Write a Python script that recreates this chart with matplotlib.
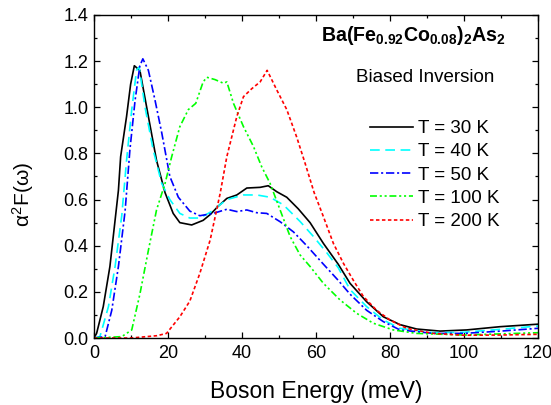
import matplotlib
matplotlib.use("Agg")
import matplotlib.pyplot as plt
from matplotlib.ticker import MultipleLocator, FormatStrFormatter

plt.rcParams['font.family'] = ['Liberation Sans', 'DejaVu Sans']
plt.rcParams['mathtext.fontset'] = 'custom'
plt.rcParams['mathtext.rm'] = 'Liberation Sans'
plt.rcParams['mathtext.it'] = 'Liberation Sans'
plt.rcParams['mathtext.bf'] = 'Liberation Sans:bold'
plt.rcParams['lines.scale_dashes'] = False

# Eliashberg-type spectral function alpha^2 F(omega) at several temperatures
e_30 = [0, 0.7, 2.5, 4.3, 6.6, 7.2, 8.8, 9.9, 10.9, 12.4, 14.7, 16.9, 19.2, 21.4, 23.2, 26.4,
        29.5, 31.4, 33.5, 35.9, 38.6, 41.3, 44.9, 47.1, 49.4, 52.1, 55.2, 58.4, 62.0, 66.0,
        69.2, 73.7, 78.2, 82.7, 87.2, 93.5, 100.7, 109.7, 120]
a2f_30 = [0, 0.02, 0.136, 0.31, 0.64, 0.786, 0.96, 1.10, 1.18, 1.16, 0.96, 0.77, 0.63, 0.54,
          0.50, 0.49, 0.51, 0.535, 0.57, 0.605, 0.62, 0.65, 0.653, 0.66, 0.634, 0.61, 0.56,
          0.50, 0.41, 0.32, 0.237, 0.157, 0.092, 0.058, 0.039, 0.030, 0.035, 0.049, 0.060]

e_40 = [0, 1.6, 3.9, 5.7, 7.5, 8.8, 10.2, 11.5, 12.2, 13.8, 16.0, 18.3, 20.5, 23.2, 25.9,
        28.6, 31.4, 35.9, 40.4, 44.0, 47.6, 51.2, 55.7, 59.3, 62.9, 66.0, 69.2, 73.7, 78.2,
        82.7, 91.7, 100, 110, 120]
a2f_40 = [0, 0.006, 0.136, 0.31, 0.53, 0.77, 0.99, 1.16, 1.175, 1.0, 0.815, 0.67, 0.60, 0.54,
          0.52, 0.52, 0.545, 0.60, 0.62, 0.62, 0.61, 0.577, 0.505, 0.44, 0.37, 0.305, 0.21,
          0.136, 0.078, 0.042, 0.023, 0.025, 0.038, 0.052]

e_50 = [0, 3.0, 4.8, 6.6, 8.4, 9.7, 11.1, 12.4, 13.2, 14.7, 16.5, 18.3, 20.5, 22.8, 25.9,
        28.6, 32.2, 35.9, 38.6, 41.3, 44.0, 46.7, 50.3, 53.9, 57.5, 62.0, 66.0, 69.2, 73.7,
        78.2, 82.7, 91.7, 100, 110, 120]
a2f_50 = [0, 0.006, 0.12, 0.31, 0.55, 0.815, 1.03, 1.18, 1.21, 1.16, 1.03, 0.89, 0.70, 0.61,
          0.55, 0.53, 0.54, 0.558, 0.548, 0.555, 0.543, 0.54, 0.504, 0.46, 0.40, 0.32, 0.25,
          0.19, 0.12, 0.071, 0.035, 0.02, 0.02, 0.03, 0.042]

e_100 = [0, 7.5, 10.2, 12.4, 14.7, 16.9, 19.2, 21.0, 23.2, 25.5, 27.5, 29.5, 30.5, 32.7, 35.0,
         35.9, 37.7, 40.4, 43.1, 45.3, 47.6, 50.3, 53.0, 55.7, 58.4, 62.0, 66.5, 71.0, 75.5,
         80.9, 87.2, 100, 110, 120]
a2f_100 = [0, 0.006, 0.035, 0.19, 0.38, 0.555, 0.67, 0.786, 0.916, 0.99, 1.017, 1.11, 1.13,
           1.12, 1.104, 1.11, 1.017, 0.916, 0.83, 0.743, 0.67, 0.555, 0.44, 0.36, 0.31, 0.237,
           0.165, 0.107, 0.064, 0.035, 0.02, 0.013, 0.018, 0.023]

e_200 = [0, 10, 17, 19.6, 23.2, 25.9, 28.6, 31.4, 34.1, 35.9, 38.6, 40.4, 42.6, 44.9, 46.8,
         49.4, 52.1, 54.8, 57.0, 59.5, 62.0, 64.7, 67.4, 70.1, 72.8, 76.4, 80.0, 84.5, 91.7,
         100, 110, 120]
a2f_200 = [0, 0.0, 0.01, 0.02, 0.092, 0.16, 0.28, 0.425, 0.627, 0.786, 0.96, 1.046, 1.08, 1.11,
           1.16, 1.075, 0.99, 0.87, 0.76, 0.63, 0.526, 0.41, 0.324, 0.25, 0.18, 0.12, 0.078,
           0.042, 0.02, 0.012, 0.013, 0.016]

labels = ['T = 30 K', 'T = 40 K', 'T = 50 K', 'T = 100 K', 'T = 200 K']

fig = plt.figure(figsize=(5.51, 4.05), dpi=100)
ax = fig.add_axes([0.1706, 0.1654, 0.8058, 0.7976])

lw = 1.2
ax.plot(e_30, a2f_30, color='black', lw=lw, ls='-', label=labels[0])
ax.plot(e_40, a2f_40, color='#00FFFF', lw=lw, ls=(0, (7, 4)), label=labels[1])
ax.plot(e_50, a2f_50, color='#0000FF', lw=lw, ls=(0, (6, 2, 1.5, 2)), label=labels[2])
ax.plot(e_100, a2f_100, color='#00FF00', lw=lw, ls=(0, (5, 2, 1.5, 2, 1.5, 2)), label=labels[3])
ax.plot(e_200, a2f_200, color='#FF0000', lw=lw, ls=(0, (2.5, 1.8)), label=labels[4])

ax.set_xlim(0, 120)
ax.set_ylim(0, 1.4)
ax.xaxis.set_major_locator(MultipleLocator(20))
ax.xaxis.set_minor_locator(MultipleLocator(10))
ax.yaxis.set_major_locator(MultipleLocator(0.2))
ax.yaxis.set_minor_locator(MultipleLocator(0.1))
ax.yaxis.set_major_formatter(FormatStrFormatter('%.1f'))
ax.tick_params(which='both', direction='in', top=True, right=True, width=0.9, labelsize=13)
ax.tick_params(which='major', length=4)
ax.tick_params(which='minor', length=2.5)
ax.tick_params(axis='x', pad=5)
ax.tick_params(axis='y', pad=4)
for s in ax.spines.values():
    s.set_linewidth(1.0)

ax.set_xlabel('Boson Energy (meV)', fontsize=16.5, labelpad=13)
ax.set_ylabel(r'$\alpha^2$F($\omega$)', fontsize=15)
ax.yaxis.set_label_coords(-0.131, 0.446)

ax.text(0.927, 0.935, r'$\mathbf{Ba(Fe_{0.92}Co_{0.08})_2As_2}$', transform=ax.transAxes,
        ha='right', va='center', fontsize=14.1)
ax.text(0.902, 0.806, 'Biased Inversion', transform=ax.transAxes,
        ha='right', va='center', fontsize=13.5)

leg = ax.legend(loc='upper left', bbox_to_anchor=(0.622, 0.675), frameon=False,
                fontsize=13.5, handlelength=2.3, handletextpad=0.25, labelspacing=0.33,
                borderpad=0, borderaxespad=0)

fig.savefig('out.png', dpi=100)
